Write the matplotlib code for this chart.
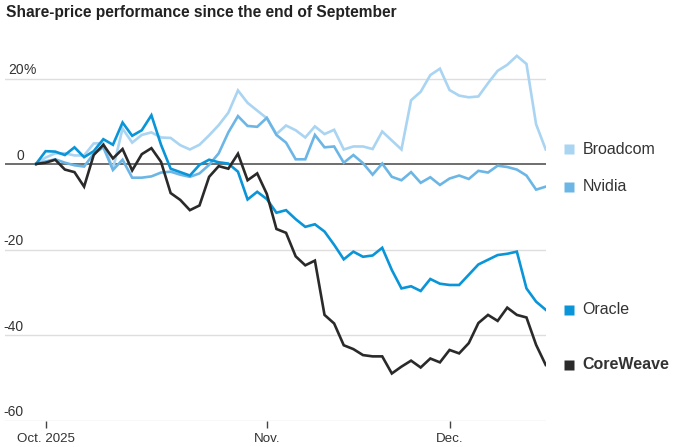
import numpy as np
import matplotlib
matplotlib.use("Agg")
import matplotlib.pyplot as plt
from matplotlib import font_manager

# Share-price change (%) since Sep 30, one point per trading day (Sep 30 .. Dec 15)
broadcom = [0, 1.5, 2.5, 2.5, 2.0, 2.0, 4.8, 4.9, -1.2, 8.3,
            5.0, 6.8, 7.4, 6.2, 6.1, 4.4, 3.4, 4.5, 6.7, 9.1,
            12.0, 17.2, 14.3, 12.5, 10.7, 7.0, 9.0, 7.9, 6.2, 8.8,
            7.0, 8.0, 3.4, 4.1, 4.1, 3.5, 7.6, 5.5, 3.4, 14.9,
            16.9, 20.8, 22.3, 17.3, 16.0, 15.6, 15.8, 18.9, 21.8, 23.2,
            25.3, 23.4, 9.3, 3.4]
nvidia = [0, 0.6, 1.1, 0.3, -0.3, -0.6, 2.4, 3.9, -1.4, 1.0,
          -3.2, -3.2, -2.9, -2.0, -1.8, -2.5, -3.0, -2.2, -0.2, 2.5,
          7.4, 11.2, 8.9, 8.7, 10.8, 6.8, 5.0, 1.1, 1.1, 6.8,
          3.9, 4.1, 0.3, 2.1, 0.2, -2.5, 0.1, -3.0, -3.8, -1.9,
          -4.4, -3.1, -4.9, -3.4, -2.7, -3.5, -1.6, -2.0, -0.4, -0.7,
          -1.3, -2.7, -6.0, -5.3]
oracle = [0, 3.0, 2.9, 2.1, 3.9, 1.6, 3.0, 5.8, 4.5, 9.7,
          6.6, 7.9, 11.4, 4.5, -1.1, -1.9, -2.7, -0.2, 1.0, 0.4,
          0.1, -1.8, -8.3, -6.5, -8.2, -11.4, -10.8, -12.9, -14.7, -14.1,
          -15.8, -18.9, -22.3, -20.5, -21.7, -21.4, -19.6, -24.8, -29.1, -28.6,
          -29.7, -26.9, -28.0, -28.3, -28.3, -25.9, -23.5, -22.4, -21.3, -21.0,
          -20.5, -29.1, -32.2, -34.1]
coreweave = [0, 0.3, 1.0, -1.3, -1.9, -5.3, 2.1, 4.5, 1.3, 3.5,
             -1.5, 2.3, 3.7, 0.5, -6.8, -8.4, -10.8, -9.7, -3.0, -0.5,
             -1.1, 2.4, -3.8, -2.2, -7.0, -15.2, -16.1, -21.6, -23.7, -22.6,
             -35.3, -37.3, -42.4, -43.3, -44.7, -45.0, -45.0, -49.0, -47.4, -46.0,
             -47.6, -45.5, -46.4, -43.5, -44.3, -41.9, -37.2, -35.3, -36.7, -33.6,
             -35.3, -35.9, -42.3, -47.0]

names = ["Broadcom", "Nvidia", "Oracle", "CoreWeave"]
colors = ["#a9d4f2", "#6cb6e6", "#0995d8", "#2a2a2a"]

# month ticks at trading-day index (Oct 1, Nov 3, Dec 1)
tick_pos = [1, 24, 43]
tick_labels = ["Oct. 2025", "Nov.", "Dec."]
y_ticks = [20, 0, -20, -40, -60]

installed = {f.name for f in font_manager.fontManager.ttflist}
narrow = "Liberation Sans Narrow" if "Liberation Sans Narrow" in installed else "Liberation Sans"
lab_size = 10.5 if narrow == "Liberation Sans Narrow" else 9.6
plt.rcParams["font.family"] = ["Liberation Sans", "DejaVu Sans"]

fig = plt.figure(figsize=(6.73, 4.47), dpi=100)
ax = fig.add_axes([5 / 673, 1 - 420.5 / 447, 541 / 673, (420.5 - 44.3) / 447])

series = [broadcom, nvidia, oracle, coreweave]
x = np.arange(len(broadcom))

# grid
for v in y_ticks:
    if v == 0:
        ax.axhline(v, color="#555555", lw=1.2, zorder=1)
    else:
        ax.axhline(v, color="#dedede", lw=1.0, zorder=0)

for vals, c in zip(series, colors):
    ax.plot(x, vals, color=c, lw=1.9, zorder=2, solid_joinstyle="miter")

ax.set_xlim(-31 / 9.617, len(x) - 1 + 0.03)
ax.set_ylim(-60, 28)
for s in ax.spines.values():
    s.set_visible(False)
ax.set_yticks([])
ax.set_xticks(tick_pos)
ax.set_xticklabels(tick_labels, fontfamily=narrow, fontsize=lab_size, color="#333333")
ax.tick_params(axis="x", length=5, width=1, color="#444444", pad=4)

# y labels sit on top of gridlines
for v in y_ticks:
    ax.annotate(str(v), xy=(0.0351, v), xycoords=("axes fraction", "data"),
                xytext=(0, 3), textcoords="offset points", ha="right", va="baseline",
                fontfamily=narrow, fontsize=lab_size + 0.4, color="#333333")
    if v == 20:
        ax.annotate("%", xy=(0.0351, v), xycoords=("axes fraction", "data"),
                    xytext=(0, 3), textcoords="offset points", ha="left", va="baseline",
                    fontfamily=narrow, fontsize=lab_size + 0.4, color="#333333")

# end labels
for vals, c, n in zip(series, colors, names):
    ax.plot([1.0416], [vals[-1]], marker="s", ms=7.5, color=c, mec="none",
            transform=ax.get_yaxis_transform(), clip_on=False)
    ax.annotate(n, xy=(1.0678, vals[-1]), xycoords=("axes fraction", "data"),
                ha="left", va="center", fontsize=11.5, color="#333333",
                fontweight="bold" if n == "CoreWeave" else "normal")

fig.text(6 / 673, 1 - 12 / 447, "Share-price performance since the end of September",
         ha="left", va="center", fontsize=11.2, fontweight="bold", color="#222222")

fig.savefig("out.png", dpi=100)
